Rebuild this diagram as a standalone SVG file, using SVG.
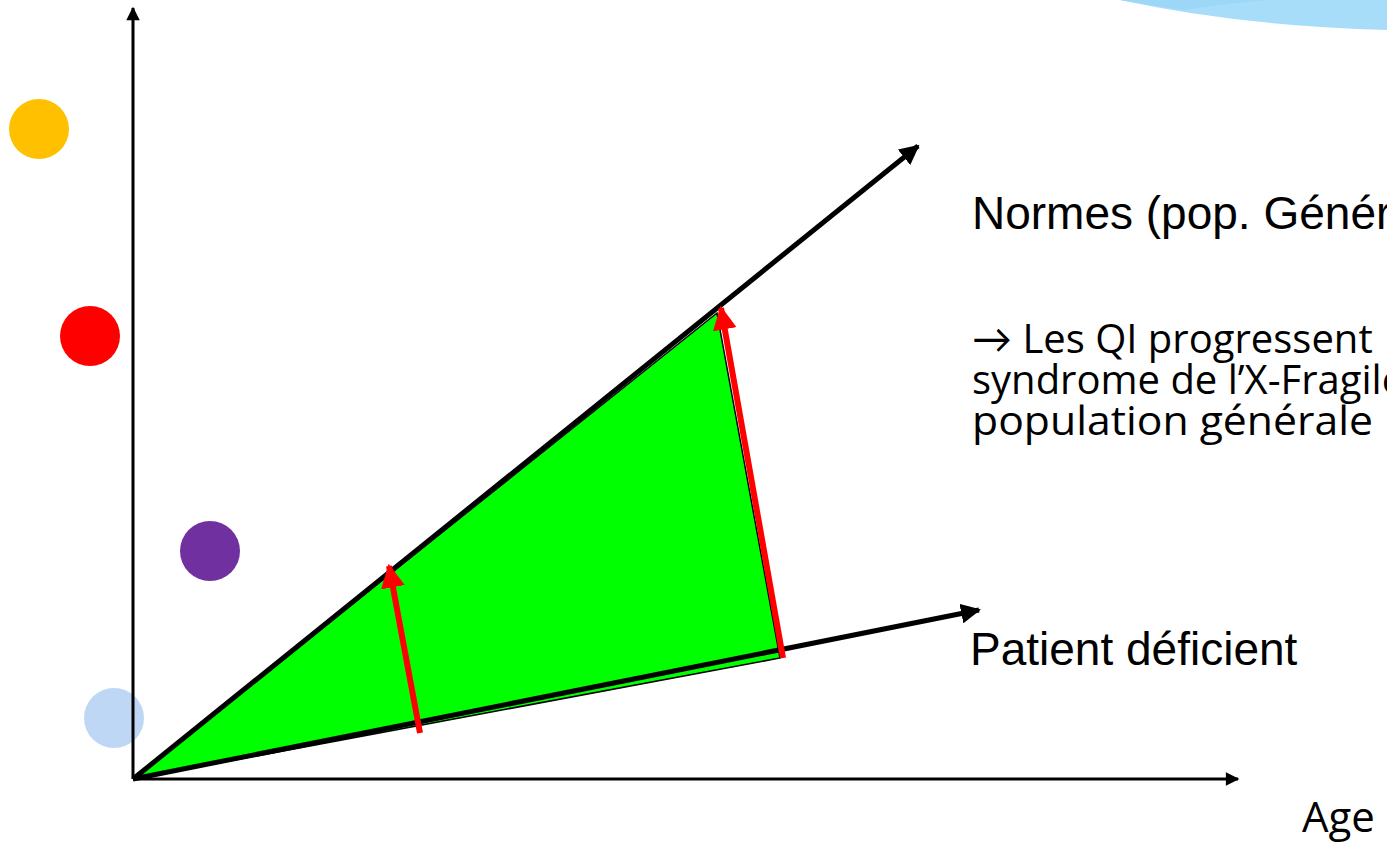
<svg xmlns="http://www.w3.org/2000/svg" width="1387" height="844" viewBox="0 0 1387 844">
<defs>
<marker id="abx" viewBox="0 0 10 10" refX="9" refY="5" markerWidth="5" markerHeight="4.5" orient="auto"><path d="M0,0 L10,5 L0,10 Z" fill="#000"/></marker>
<marker id="abt" viewBox="0 0 10 10" refX="9" refY="5" markerWidth="4" markerHeight="4" orient="auto"><path d="M0,0 L10,5 L0,10 Z" fill="#000"/></marker>
<marker id="ar" viewBox="0 0 10 10" refX="9" refY="5" markerWidth="4" markerHeight="4" orient="auto"><path d="M0,0 L10,5 L0,10 Z" fill="#FF0000"/></marker>
</defs>
<style>
.sans{font-family:"Liberation Sans",Arial,sans-serif;font-size:46px;fill:#000}
.cal{font-family:"Open Sans",Lato,sans-serif;font-size:40px;fill:#000}
.axis{stroke:#000;stroke-width:3;fill:none}
.trend{stroke:#000;stroke-width:5;fill:none}
.red{stroke:#FF0000;stroke-width:6;fill:none}
</style>
<rect width="1387" height="844" fill="#fff"/>
<g id="blob">
<path d="M1120,0 Q1240,26 1387,30 L1387,0 Z" fill="#A8DDFA"/>
<path d="M1120,0 Q1160,7 1185,10 Q1230,3 1270,0 Z" fill="#9DD7F8"/>
</g>
<g id="dots">
<circle id="dot-orange" cx="39" cy="129" r="30" fill="#FFC000"/>
<circle id="dot-red" cx="90" cy="336" r="30" fill="#FF0000"/>
<circle id="dot-purple" cx="210" cy="551" r="30" fill="#7030A0"/>
<circle id="dot-blue" cx="114" cy="718" r="30" fill="#BDD7F5"/>
</g>
<g id="area">
<polygon points="133,779 717,313 780,658" fill="#00FF00" stroke="#000" stroke-width="1.5"/>
</g>
<g id="connectors">
<line class="axis" x1="133" y1="779" x2="133" y2="8" marker-end="url(#abx)"/>
<line class="axis" x1="133" y1="779" x2="1238" y2="779" marker-end="url(#abx)"/>
<line class="trend" x1="133" y1="779" x2="918" y2="146" marker-end="url(#abt)"/>
<line class="trend" x1="133" y1="779" x2="979" y2="610" marker-end="url(#abt)"/>
<line class="red" x1="420" y1="733" x2="389" y2="566" marker-end="url(#ar)"/>
<line class="red" x1="783" y1="658" x2="721" y2="308" marker-end="url(#ar)"/>
</g>
<g id="label-normes"><text class="sans" x="972" y="229">Normes (pop. Générale)</text></g>
<g id="label-note">
<text class="cal" x="972" y="353">→ Les QI progressent</text>
<text class="cal" x="972" y="394">syndrome de l’X-Fragile</text>
<text class="cal" x="972" y="435" textLength="401" lengthAdjust="spacingAndGlyphs">population générale</text>
</g>
<g id="label-patient"><text class="sans" x="970" y="665">Patient déficient</text></g>
<g id="label-age"><text class="cal" x="1302" y="832" style="font-size:42px">Age</text></g>
</svg>
